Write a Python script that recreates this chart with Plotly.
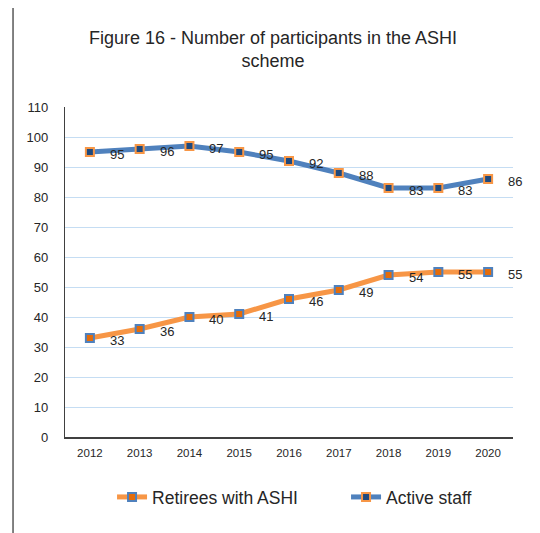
import plotly.graph_objects as go

years = ["2012", "2013", "2014", "2015", "2016", "2017", "2018", "2019", "2020"]
retirees = [33, 36, 40, 41, 46, 49, 54, 55, 55]
active = [95, 96, 97, 95, 92, 88, 83, 83, 86]
y_ticks = [0, 10, 20, 30, 40, 50, 60, 70, 80, 90, 100, 110]

FONT = "Liberation Sans Narrow, Arial Narrow, Liberation Sans, Arial, sans-serif"
ORANGE = "#F79646"
ORANGE_DARK = "#E46C0A"
BLUE = "#4F81BD"
NAVY = "#1F497D"
TXT = "#262626"

fig = go.Figure()
fig.add_trace(go.Scatter(
    x=years, y=retirees, name="Retirees with ASHI", mode="lines+markers",
    line=dict(color=ORANGE, width=5),
    marker=dict(symbol="square", size=8, color=ORANGE_DARK, line=dict(color=BLUE, width=2)),
    legendwidth=189,
))
fig.add_trace(go.Scatter(
    x=years, y=active, name="Active staff", mode="lines+markers",
    line=dict(color=BLUE, width=5),
    marker=dict(symbol="square", size=8, color=NAVY, line=dict(color=ORANGE, width=2)),
))

annotations = []
for series in (retirees, active):
    for i, v in enumerate(series):
        annotations.append(dict(
            x=i, y=v, xref="x", yref="y", text=str(v), showarrow=False,
            xanchor="left", yanchor="middle", xshift=18, yshift=-2,
            font=dict(family=FONT, size=13, color=TXT),
        ))

shapes = [
    dict(type="line", xref="paper", yref="paper", x0=-0.116, x1=1.2, y0=1.312, y1=1.312,
         line=dict(color="#595959", width=1.5)),
    dict(type="line", xref="paper", yref="paper", x0=-0.116, x1=-0.116, y0=1.312, y1=-0.35,
         line=dict(color="#595959", width=1.5)),
]

fig.update_layout(
    width=540, height=533,
    margin=dict(l=57, r=35, t=99, b=104),
    paper_bgcolor="white", plot_bgcolor="white",
    font=dict(family=FONT, color=TXT),
    title=dict(
        text="Figure 16 - Number of participants in the ASHI<br>scheme",
        x=265 / 540, xref="container", xanchor="center",
        y=1 - 35.5 / 533, yref="container", yanchor="middle",
        font=dict(family=FONT, size=18, color=TXT),
    ),
    xaxis=dict(
        type="category", range=[-0.5, 8.5], showgrid=False,
        showline=True, linecolor="#404040", linewidth=1.5,
        ticks="", tickfont=dict(family=FONT, size=11.5, color=TXT),
        ticklabelstandoff=4,
    ),
    yaxis=dict(
        range=[0, 110], tickvals=y_ticks, showgrid=True, gridcolor="#C5DDF3", gridwidth=1.2,
        showline=True, linecolor="#404040", linewidth=1.2, zeroline=False,
        ticks="", tickfont=dict(family=FONT, size=13, color=TXT),
        ticklabelstandoff=13,
    ),
    legend=dict(
        orientation="h", x=0.105, xanchor="left", y=-0.182, yanchor="middle",
        font=dict(family=FONT, size=17.5, color=TXT),
        bgcolor="rgba(0,0,0,0)",
    ),
    annotations=annotations,
    shapes=shapes,
)

fig.write_html("out.html")
